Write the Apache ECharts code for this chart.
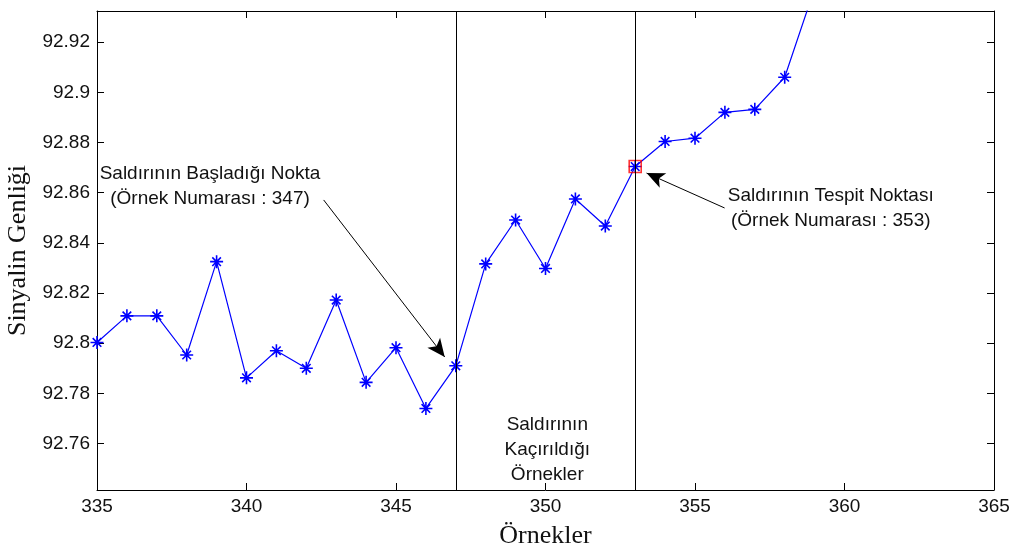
<!DOCTYPE html>
<html>
<head>
<meta charset="utf-8">
<script src="https://cdn.jsdelivr.net/npm/echarts@6/dist/echarts.min.js"></script>
<style>
html,body{margin:0;padding:0;background:#fff;}
#chart{width:1012px;height:550px;}
</style>
</head>
<body>
<div id="chart"></div>
<script>
// ---- data ----
const samples = [335,336,337,338,339,340,341,342,343,344,345,346,347,348,349,350,351,352,353,354,355,356,357,358,359];
const amplitude = [92.8003,92.8109,92.8109,92.7953,92.8325,92.7862,92.7970,92.7900,92.8172,92.7844,92.7982,92.7740,92.7910,92.8316,92.8491,92.8298,92.8575,92.8467,92.8704,92.8804,92.8817,92.8920,92.8932,92.9060,92.9414];
const yTickValues = [92.76,92.78,92.80,92.82,92.84,92.86,92.88,92.90,92.92];
const xMin = 335, xMax = 365, xStep = 5;
const yMin = 92.7415, yMax = 92.9324;
const attackStart = 347;
const detectionPoint = 353;
const startLabel = 'Saldırının Başladığı Nokta\n(Örnek Numarası : 347)';
const detectLabel = 'Saldırının Tespit Noktası\n(Örnek Numarası : 353)';
const missedLabel = 'Saldırının\nKaçırıldığı\nÖrnekler';
const startLabelPos = [338.78, 92.8627];
const detectLabelPos = [359.54, 92.8539];
const missedLabelPos = [350.06, 92.7574];
const startArrow = [[342.58, 92.8571],[346.63, 92.7945]];
const detectArrow = [[355.99, 92.8539],[353.38, 92.8678]];
const xTitle = 'Örnekler';
const yTitle = 'Sinyalin Genliği';

const chart = echarts.init(document.getElementById('chart'), null, {renderer:'canvas'});
const seriesData = samples.map((s,i)=>[s, amplitude[i]]);
const detIdx = samples.indexOf(detectionPoint);

const starPath = 'path://M0,-6.5L0,6.5M-6.5,0L6.5,0M-4.3,-4.3L4.3,4.3M-4.3,4.3L4.3,-4.3';
const tickFont = {fontFamily:'Liberation Sans, Arial, sans-serif', fontSize:19, color:'#111'};
const annFont = {fontFamily:'Liberation Sans, Arial, sans-serif', fontSize:19, color:'#111', lineHeight:25};
const titleFont = {fontFamily:'Liberation Serif, Times New Roman, serif', fontSize:26, color:'#111'};

const axisLine = {show:true, lineStyle:{color:'#000', width:1}};

chart.setOption({
  animation:false,
  backgroundColor:'#fff',
  grid:{left:97, right:18, top:11, bottom:60, containLabel:false, outerBoundsMode:'none'},
  xAxis:[{
    type:'value', min:xMin, max:xMax, interval:xStep, position:'bottom',
    axisLine:axisLine,
    axisTick:{show:true, inside:true, length:7, lineStyle:{color:'#000'}},
    axisLabel:Object.assign({margin:7, formatter:v=>String(v)}, tickFont),
    splitLine:{show:false},
    name:xTitle, nameLocation:'middle', nameGap:33,
    nameTextStyle:titleFont
  },{
    type:'value', min:xMin, max:xMax, interval:xStep, position:'top',
    axisLine:axisLine,
    axisTick:{show:true, inside:true, length:7, lineStyle:{color:'#000'}},
    axisLabel:{show:false}, splitLine:{show:false}
  }],
  yAxis:[{
    type:'value', min:yMin, max:yMax, position:'left',
    axisLine:axisLine,
    axisTick:{show:true, inside:true, length:7, customValues:yTickValues, lineStyle:{color:'#000'}},
    axisLabel:Object.assign({margin:7, customValues:yTickValues, formatter:v=>String(+v.toFixed(2))}, tickFont),
    splitLine:{show:false},
    name:yTitle, nameLocation:'middle', nameGap:57, nameRotate:90,
    nameTextStyle:titleFont
  },{
    type:'value', min:yMin, max:yMax, position:'right',
    axisLine:axisLine,
    axisTick:{show:true, inside:true, length:7, customValues:yTickValues, lineStyle:{color:'#000'}},
    axisLabel:{show:false}, splitLine:{show:false}
  }],
  series:[{
    type:'line', xAxisIndex:0, yAxisIndex:0,
    data:seriesData,
    clip:true,
    symbol:starPath, symbolSize:13, showAllSymbol:true,
    lineStyle:{color:'#0000ff', width:1.2},
    itemStyle:{color:'#0000ff', borderColor:'#0000ff', borderWidth:1.6},
    emphasis:{disabled:true},
    silent:true, z:3
  },{
    type:'scatter', xAxisIndex:0, yAxisIndex:0,
    data:[[detectionPoint, amplitude[detIdx]]],
    symbol:'rect', symbolSize:12,
    itemStyle:{color:'rgba(0,0,0,0)', borderColor:'#ff0000', borderWidth:1.6},
    silent:true, z:4
  },{
    type:'line', xAxisIndex:0, yAxisIndex:0, data:[], silent:true, z:2,
    markLine:{
      silent:true, animation:false,
      symbol:['none','none'],
      label:{show:false},
      lineStyle:{color:'#000', width:1, type:'solid'},
      emphasis:{disabled:true},
      data:[
        {xAxis:attackStart},
        {xAxis:detectionPoint},
        [{coord:startArrow[0], symbol:'none'},{coord:startArrow[1], symbol:'arrow', symbolSize:[12,18]}],
        [{coord:detectArrow[0], symbol:'none'},{coord:detectArrow[1], symbol:'arrow', symbolSize:[12,18]}]
      ]
    },
    markPoint:{
      silent:true, animation:false,
      symbol:'circle', symbolSize:0,
      label:Object.assign({show:true, position:'inside', align:'center', verticalAlign:'middle', formatter:p=>p.name}, annFont),
      data:[
        {name:startLabel, coord:startLabelPos},
        {name:detectLabel, coord:detectLabelPos},
        {name:missedLabel, coord:missedLabelPos}
      ]
    }
  }]
});
</script>
</body>
</html>
